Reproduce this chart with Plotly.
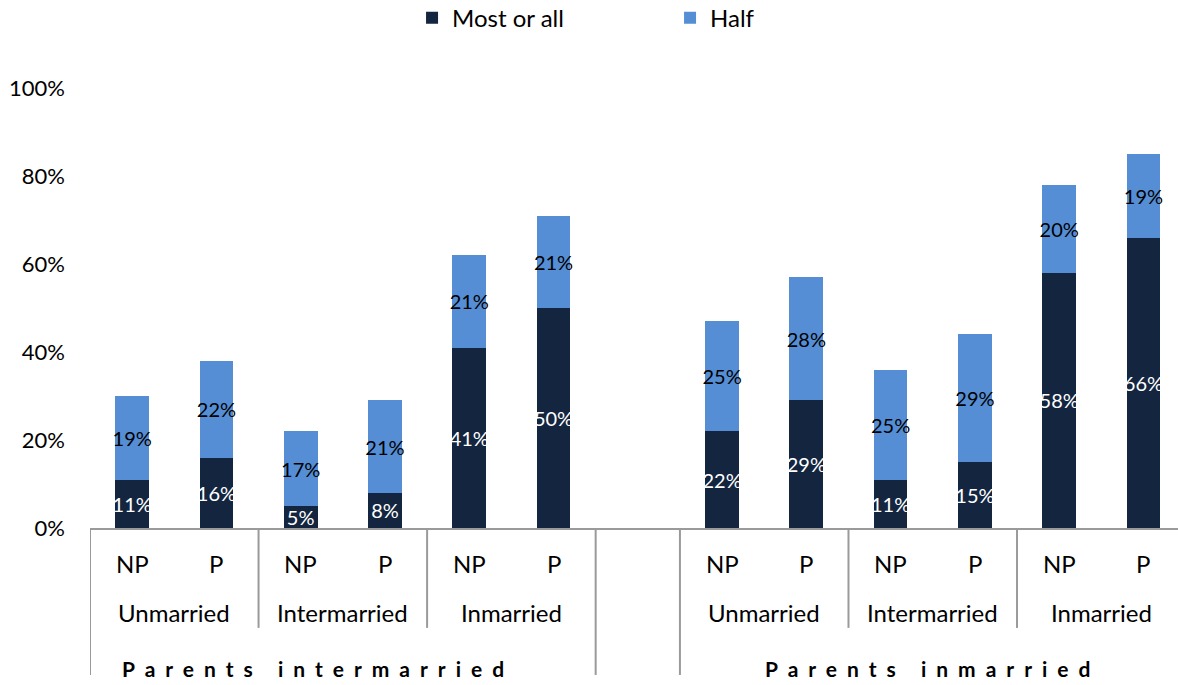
import plotly.graph_objects as go

# Survey shares by parental marriage type, respondent marriage type and NP/P
parent_groups = ["Parents intermarried", "Parents inmarried"]
marriage_types = ["Unmarried", "Intermarried", "Inmarried"]
sub_labels = ["NP", "P"]

most_or_all = [11, 16, 5, 8, 41, 50, 22, 29, 11, 15, 58, 66]
half = [19, 22, 17, 21, 21, 21, 25, 28, 25, 29, 20, 19]

y_ticks = [0, 20, 40, 60, 80, 100]
y_tick_text = [f"{v}%" for v in y_ticks]

DARK = "#13253f"
LIGHT = "#558ed5"
LINE = "#9a9a9a"
FONT = "Lato, 'Open Sans', sans-serif"

# x slots: six bars per parent group, one empty slot between the groups
per_group = len(marriage_types) * len(sub_labels)
x_pos = []
for g in range(len(parent_groups)):
    for k in range(per_group):
        x_pos.append(g * (per_group + 1) + k)

x_min, x_max = -0.5, 12.41

fig = go.Figure()
fig.add_trace(go.Bar(
    x=x_pos, y=most_or_all, name="Most or all",
    marker=dict(color=DARK, line=dict(width=0)),
    width=0.4,
    text=[f"{v}%" for v in most_or_all],
    textposition="inside", insidetextanchor="middle",
    constraintext="none", textangle=0,
    insidetextfont=dict(color="white", size=20, family=FONT),
    hoverinfo="skip",
))
fig.add_trace(go.Bar(
    x=x_pos, y=half, name="Half",
    marker=dict(color=LIGHT, line=dict(width=0)),
    width=0.4,
    text=[f"{v}%" for v in half],
    textposition="inside", insidetextanchor="middle",
    constraintext="none", textangle=0,
    insidetextfont=dict(color="black", size=20, family=FONT),
    hoverinfo="skip",
))

shapes = []
annotations = []

# bottom rows of the grouped category axis
Y_SUB, Y_MID, Y_OUT = -0.08, -0.193, -0.32
SHORT, LONG = -0.227, -0.334
LABEL_FONT = dict(size=24, family=FONT, color="black")

for g, group in enumerate(parent_groups):
    start = g * (per_group + 1)
    for m, mt in enumerate(marriage_types):
        for s, sl in enumerate(sub_labels):
            xi = start + m * 2 + s
            annotations.append(dict(x=xi, y=Y_SUB, xref="x", yref="paper", text=sl,
                                    yanchor="middle", showarrow=False, font=LABEL_FONT))
        annotations.append(dict(x=start + m * 2 + 0.5, y=Y_MID, xref="x", yref="paper", text=mt,
                                yanchor="middle", showarrow=False, font=LABEL_FONT))
        if m > 0:
            shapes.append(dict(type="line", xref="x", yref="paper",
                               x0=start + m * 2 - 0.5, x1=start + m * 2 - 0.5, y0=0, y1=SHORT,
                               line=dict(color=LINE, width=2)))
    # group edges
    for edge in (start - 0.5, start + per_group - 0.5):
        shapes.append(dict(type="line", xref="x", yref="paper",
                           x0=edge, x1=edge, y0=0, y1=LONG,
                           line=dict(color=LINE, width=2)))
    centre = start + (per_group - 1) / 2 if g == 1 else 2.2
    annotations.append(dict(
        x=centre, y=Y_OUT, xref="x", yref="paper", yanchor="middle",
        text=f"<b><span style='letter-spacing:10px'>{group}</span></b>",
        showarrow=False, font=dict(size=21, family=FONT, color="black")))

fig.update_layout(
    width=1178, height=685,
    margin=dict(l=90, r=0, t=88, b=157, autoexpand=False),
    barmode="stack",
    plot_bgcolor="white", paper_bgcolor="white",
    font=dict(family=FONT, size=22, color="black"),
    showlegend=True,
    legend=dict(orientation="h", x=0.296, xanchor="left", y=1.159, yanchor="middle",
                font=dict(size=24, family=FONT, color="black"),
                entrywidth=213, traceorder="normal"),
    xaxis=dict(range=[x_min, x_max], showticklabels=False, ticks="",
               showgrid=False, zeroline=False,
               showline=True, linecolor=LINE, linewidth=2),
    yaxis=dict(range=[0, 100], tickmode="array", tickvals=y_ticks, ticktext=y_tick_text,
               showgrid=False, zeroline=False, showline=False, ticks="",
               ticklabelstandoff=24,
               tickfont=dict(size=22, family=FONT, color="black")),
    shapes=shapes,
    annotations=annotations,
)

fig.write_html("out.html")
